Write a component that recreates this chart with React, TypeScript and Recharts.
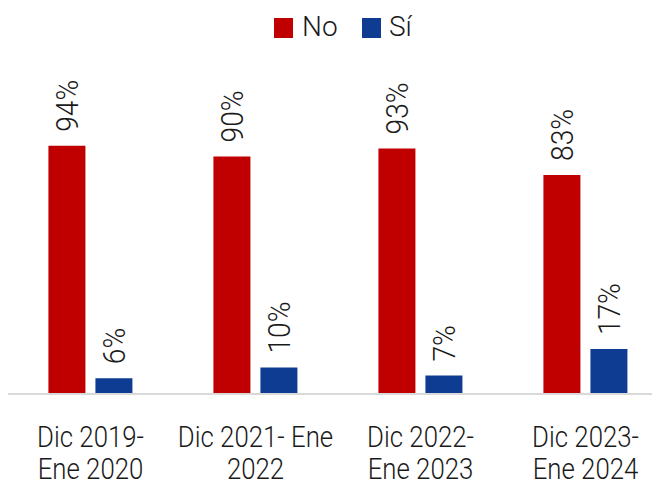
import React from "react";
import { BarChart, Bar, XAxis, YAxis, LabelList, Legend } from "recharts";

const categories = ["Dic 2019- Ene 2020", "Dic 2021- Ene 2022", "Dic 2022- Ene 2023", "Dic 2023- Ene 2024"];
const tickLines = [
  ["Dic 2019-", "Ene 2020"],
  ["Dic 2021- Ene", "2022"],
  ["Dic 2022-", "Ene 2023"],
  ["Dic 2023-", "Ene 2024"],
];
const noValues = [94, 90, 93, 83];
const siValues = [6, 10, 7, 17];

const RED = "#C00000";
const BLUE = "#0E3C92";
const FONT = "Roboto, 'Noto Sans', sans-serif";

const data = categories.map((c, i) => ({ name: c, no: noValues[i], si: siValues[i] }));

const Tick = (props: any) => {
  const { x, y, payload } = props;
  const lines = tickLines[payload.index] || [payload.value];
  const baselines = [52.5, 85];
  return (
    <g>
      {lines.map((l: string, i: number) => (
        <g key={i} transform={`translate(${x},${y + baselines[i]}) scale(0.86,1)`}>
          <text x={0} y={0} textAnchor="middle" fontFamily={FONT} fontWeight={300} fontSize={30} fill="#1a1a1a">
            {l}
          </text>
        </g>
      ))}
    </g>
  );
};

const BarLabel = (props: any) => {
  const { x, y, width, value } = props;
  const cx = Number(x) + Number(width) / 2;
  const ty = Number(y) - 14;
  return (
    <g transform={`translate(${cx},${ty}) rotate(-90) scale(0.88,1)`}>
      <text x={0} y={0} dy="0.36em" textAnchor="start" fontFamily={FONT} fontWeight={300} fontSize={32} fill="#1a1a1a">
        {value}%
      </text>
    </g>
  );
};

const LegendContent = () => (
  <div style={{ position: "relative", width: 660, height: 40, fontFamily: FONT, fontWeight: 300, fontSize: 28, color: "#1a1a1a" }}>
    <div style={{ position: "absolute", left: 266, top: 10, width: 19, height: 20, background: RED }} />
    <span style={{ position: "absolute", left: 294, top: 5, lineHeight: "28px", whiteSpace: "nowrap" }}>No</span>
    <div style={{ position: "absolute", left: 354, top: 10, width: 19, height: 20, background: BLUE }} />
    <span style={{ position: "absolute", left: 381, top: 5, lineHeight: "28px", whiteSpace: "nowrap" }}>Sí</span>
  </div>
);

export default function App() {
  return (
    <div style={{ width: 652, height: 477, overflow: "hidden" }}>
      <BarChart
        width={660}
        height={477}
        data={data}
        margin={{ top: 82, right: 0, bottom: 0, left: 0 }}
        barCategoryGap="24.5%"
        barGap={10}
      >
        <XAxis
          dataKey="name"
          height={91}
          tickLine={false}
          tickSize={0}
          tickMargin={0}
          axisLine={{ stroke: "#d9d9d9", strokeWidth: 2 }}
          tick={<Tick />}
          interval={0}
        />
        <YAxis hide domain={[0, 100]} />
        <Legend verticalAlign="top" align="left" wrapperStyle={{ top: 0, left: 0, width: 660 }} content={<LegendContent />} />
        <Bar dataKey="no" fill={RED} isAnimationActive={false}>
          <LabelList dataKey="no" content={<BarLabel />} />
        </Bar>
        <Bar dataKey="si" fill={BLUE} isAnimationActive={false}>
          <LabelList dataKey="si" content={<BarLabel />} />
        </Bar>
      </BarChart>
    </div>
  );
}
